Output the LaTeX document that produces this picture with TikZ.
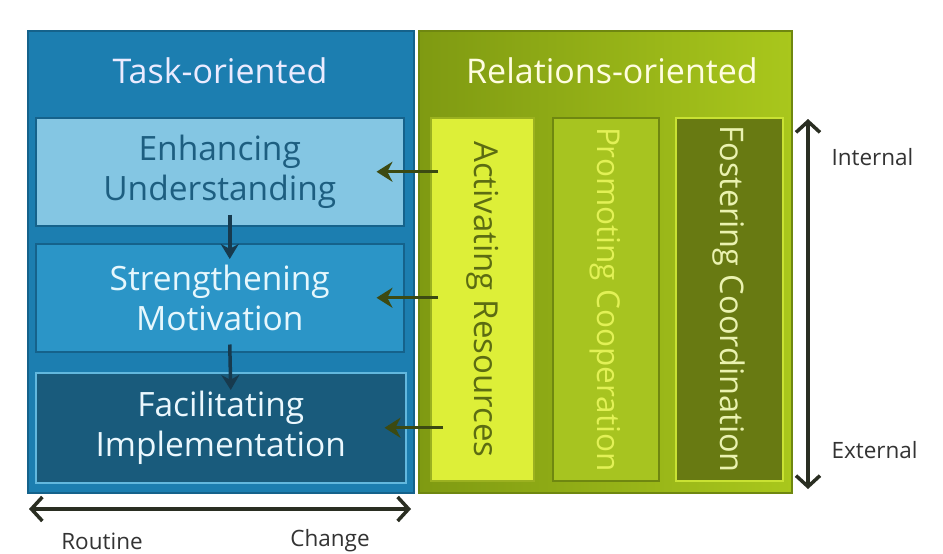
\documentclass[tikz,border=0pt]{standalone}
\usepackage{fontspec}
\setmainfont{Open Sans}
\usetikzlibrary{arrows.meta,calc}
\definecolor{blueouter}{HTML}{1C7EB0}
\definecolor{blueedge}{HTML}{15628B}
\definecolor{bluelight}{HTML}{84C6E3}
\definecolor{bluemid}{HTML}{2B95C7}
\definecolor{bluedark}{HTML}{195B7C}
\definecolor{bluetext}{HTML}{1D5E80}
\definecolor{blueline}{HTML}{62B8DE}
\definecolor{greenleft}{HTML}{7F9A12}
\definecolor{greenright}{HTML}{A9C71C}
\definecolor{greenedge}{HTML}{6F8710}
\definecolor{lime}{HTML}{DDEF38}
\definecolor{limemid}{HTML}{A7C420}
\definecolor{olive}{HTML}{687A12}
\definecolor{olivetext}{HTML}{5C6C12}
\definecolor{oliveline}{HTML}{C9E233}
\definecolor{palelime}{HTML}{EAF2B0}
\definecolor{arrowolive}{HTML}{3C4A12}
\definecolor{arrowblue}{HTML}{173A4E}
\definecolor{axis}{HTML}{2A2E22}
\begin{document}
\begin{tikzpicture}[x=1pt,y=-1pt,
  panel/.style={anchor=north west,inner sep=0pt,line width=1.5pt},
  stepbox/.style={anchor=north west,inner sep=0pt,minimum width=368pt,minimum height=108pt,
    align=center,font=\fontsize{33.5}{40}\selectfont,line width=1.5pt},
  colbox/.style={anchor=north west,inner sep=0pt,minimum height=363pt,line width=1.5pt},
  coltext/.style={rotate=-90,font=\fontsize{32.5}{36}\selectfont},
  title/.style={font=\fontsize{34}{38}\selectfont,text=white!92!blue},
  feed/.style={arrowolive,line width=3pt,-{Stealth[length=16pt,width=20pt]}},
  down/.style={arrowblue,line width=3.5pt,-{Stealth[length=15pt,width=18pt]}},
  axisarrow/.style={axis,line width=3.5pt,{Straight Barb[length=11pt,width=24pt]}-{Straight Barb[length=11pt,width=24pt]}},
  axislabel/.style={font=\fontsize{22.5}{26}\selectfont,text=black!80}]
\useasboundingbox (0,0) rectangle (943,554);
\fill[white] (0,0) rectangle (943,554);

% outer panels
\node[panel,draw=blueedge,fill=blueouter,minimum width=386pt,minimum height=462pt] (task) at (27,30) {};
\node[panel,draw=greenedge,left color=greenleft,right color=greenright,minimum width=373pt,minimum height=462pt] (rel) at (418,30) {};
\node[title] (tasktitle) at (220,71) {Task-oriented};
\node[title,text=white!88!yellow] (reltitle) at (612,71) {Relations-oriented};

% task-oriented behaviours
\node[stepbox,draw=blueedge,fill=bluelight,text=bluetext] (enh) at (35,117) {Enhancing\\Understanding};
\node[stepbox,draw=blueedge,fill=bluemid,text=white!90!cyan] (str) at (35,243) {Strengthening\\Motivation};
\node[stepbox,draw=blueline,fill=bluedark,text=white!92!cyan,minimum width=370pt,minimum height=110pt] (fac) at (35,372) {Facilitating\\Implementation};

% relations-oriented behaviours
\node[colbox,draw=greenedge!60!lime,fill=lime,minimum width=103pt] (act) at (430,117) {};
\node[colbox,draw=greenedge,fill=limemid,minimum width=106pt] (pro) at (552,117) {};
\node[colbox,draw=oliveline,fill=olive,minimum width=107pt] (fos) at (675,117) {};
\node[coltext,text=olivetext,font=\fontsize{33}{36}\selectfont] (acttext) at (act.center) {Activating Resources};
\node[coltext,text=lime!85!white,font=\fontsize{31.5}{36}\selectfont] (protext) at (pro.center) {Promoting Cooperation};
\node[coltext,text=palelime] (fostext) at (fos.center) {Fostering Coordination};

% links between the two groups
\draw[feed] ($(act.west |- enh.center)+(8pt,0pt)$) -- ($(enh.east)+(-28pt,0pt)$);
\draw[feed] ($(act.west |- str.center)+(8pt,0pt)$) -- ($(str.east)+(-28pt,0pt)$);
\draw[feed] ($(act.west |- fac.center)+(13pt,0pt)$) -- ($(fac.east)+(-22pt,0pt)$);
\draw[down] ($(enh.south)+(10pt,12pt)$) -- ($(str.north)+(10pt,-16pt)$);
\draw[down] ($(str.south)+(10pt,8pt)$) -- ($(fac.north)+(10pt,-18pt)$);

% axes
\coordinate (routineend) at (29,509);
\coordinate (changeend) at (411,509);
\draw[axisarrow] (routineend) -- (changeend);
\node[axislabel] (routine) at (102,541) {Routine};
\node[axislabel] (change) at (330,541) {Change};
\coordinate (internalend) at (808,119);
\coordinate (externalend) at (808,489);
\draw[axisarrow] (internalend) -- (externalend);
\node[axislabel,anchor=west] (internal) at (828,157) {Internal};
\node[axislabel,anchor=west] (external) at (828,450) {External};
\end{tikzpicture}
\end{document}
